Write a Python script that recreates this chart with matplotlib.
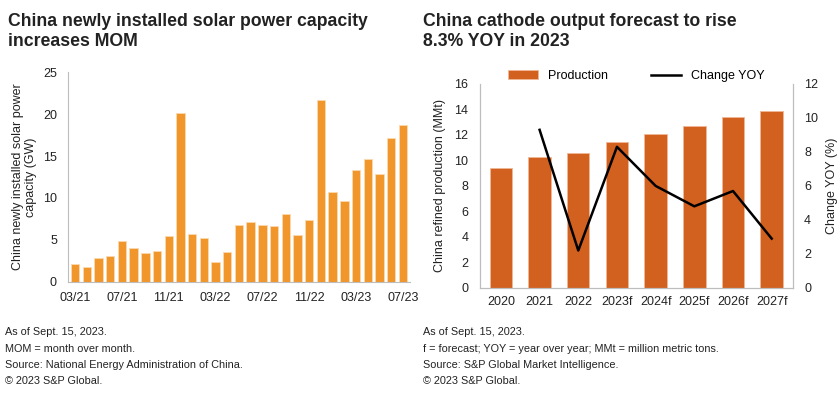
import matplotlib.pyplot as plt
import numpy as np

# left panel: monthly new solar capacity, 03/21 .. 07/23
months = ['03/21', '04/21', '05/21', '06/21', '07/21', '08/21', '09/21', '10/21', '11/21', '12/21',
          '01/22', '02/22', '03/22', '04/22', '05/22', '06/22', '07/22', '08/22', '09/22', '10/22',
          '11/22', '12/22', '01/23', '02/23', '03/23', '04/23', '05/23', '06/23', '07/23']
solar_gw = [2.1, 1.8, 2.8, 3.1, 4.9, 4.1, 3.5, 3.7, 5.5, 20.1,
            5.7, 5.2, 2.4, 3.6, 6.8, 7.1, 6.8, 6.7, 8.1, 5.6,
            7.4, 21.7, 10.7, 9.6, 13.3, 14.6, 12.9, 17.2, 18.7]

# right panel: cathode output and yoy change
years = ['2020', '2021', '2022', '2023f', '2024f', '2025f', '2026f', '2027f']
production = [9.4, 10.3, 10.55, 11.45, 12.1, 12.7, 13.4, 13.85]
yoy_change = [np.nan, 9.3, 2.2, 8.3, 6.0, 4.8, 5.7, 2.9]

txt = '#222222'
grey = '#bdbdbd'
plt.rcParams['font.family'] = ['Liberation Sans', 'DejaVu Sans']

fig = plt.figure(figsize=(8.4, 3.96), dpi=100)

# ---- left chart
ax1 = fig.add_axes([0.081, 0.288, 0.407, 0.530])
x = np.arange(len(months))
ax1.bar(x, solar_gw, width=0.72, color='#F0962A', edgecolor='#fbd9b0', linewidth=0.6)
ax1.set_ylim(0, 25)
ax1.set_xlim(-0.6, len(months) - 0.4)
ax1.set_yticks([0, 5, 10, 15, 20, 25])
ax1.set_xticks(x[::4])
ax1.set_xticklabels(months[::4])
ax1.set_ylabel('China newly installed solar power\ncapacity (GW)', fontsize=9, color=txt, labelpad=4)
for s in ['top', 'right']:
    ax1.spines[s].set_visible(False)
for s in ['left', 'bottom']:
    ax1.spines[s].set_color(grey)
ax1.tick_params(length=0, labelsize=9, colors=txt)
ax1.tick_params(axis='y', pad=8)
ax1.tick_params(axis='x', pad=7)

fig.text(0.0095, 0.968, 'China newly installed solar power capacity\nincreases MOM',
         fontsize=12.7, fontweight='bold', va='top', color=txt, linespacing=1.25)

# ---- right chart
ax2 = fig.add_axes([0.571, 0.273, 0.373, 0.515])
xr = np.arange(len(years))
ax2.bar(xr, production, width=0.58, color='#D2601F', edgecolor='#f0b896', linewidth=0.6,
        label='Production')
ax2.set_ylim(0, 16)
ax2.set_xlim(-0.55, len(years) - 0.45)
ax2.set_yticks(range(0, 17, 2))
ax2.set_xticks(xr)
ax2.set_xticklabels(years)
ax2.set_ylabel('China refined production (MMt)', fontsize=9, color=txt, labelpad=6)
ax2.tick_params(length=0, labelsize=9, colors=txt)
ax2.tick_params(axis='y', pad=8)
ax2.tick_params(axis='x', pad=6)

ax3 = ax2.twinx()
ax3.plot(xr, yoy_change, color='black', linewidth=1.8, label='Change YOY')
ax3.set_ylim(0, 12)
ax3.set_yticks(range(0, 13, 2))
ax3.set_ylabel('Change YOY (%)', fontsize=9, color=txt, labelpad=6)
ax3.tick_params(length=0, labelsize=9, colors=txt, pad=8)

for a in (ax2, ax3):
    a.spines['top'].set_visible(False)
    for s in ['left', 'right', 'bottom']:
        a.spines[s].set_color(grey)

h1, l1 = ax2.get_legend_handles_labels()
h2, l2 = ax3.get_legend_handles_labels()
ax2.legend(h1 + h2, l1 + l2, loc='lower center', bbox_to_anchor=(0.5, 0.985), ncol=2,
           frameon=False, fontsize=9, handlelength=2.4, columnspacing=3.5, borderaxespad=0)

fig.text(0.504, 0.968, 'China cathode output forecast to rise\n8.3% YOY in 2023',
         fontsize=12.7, fontweight='bold', va='top', color=txt, linespacing=1.25)

# ---- footnotes
left_notes = ['As of Sept. 15, 2023.', 'MOM = month over month.',
              'Source: National Energy Administration of China.', '\u00a9 2023 S&P Global.']
right_notes = ['As of Sept. 15, 2023.', 'f = forecast; YOY = year over year; MMt = million metric tons.',
               'Source: S&P Global Market Intelligence.', '\u00a9 2023 S&P Global.']
for i, (a, b) in enumerate(zip(left_notes, right_notes)):
    yy = 0.161 - i * 0.0412
    fig.text(0.006, yy, a, fontsize=7.8, color=txt, va='center')
    fig.text(0.504, yy, b, fontsize=7.8, color=txt, va='center')

fig.savefig('out.png', dpi=100)
